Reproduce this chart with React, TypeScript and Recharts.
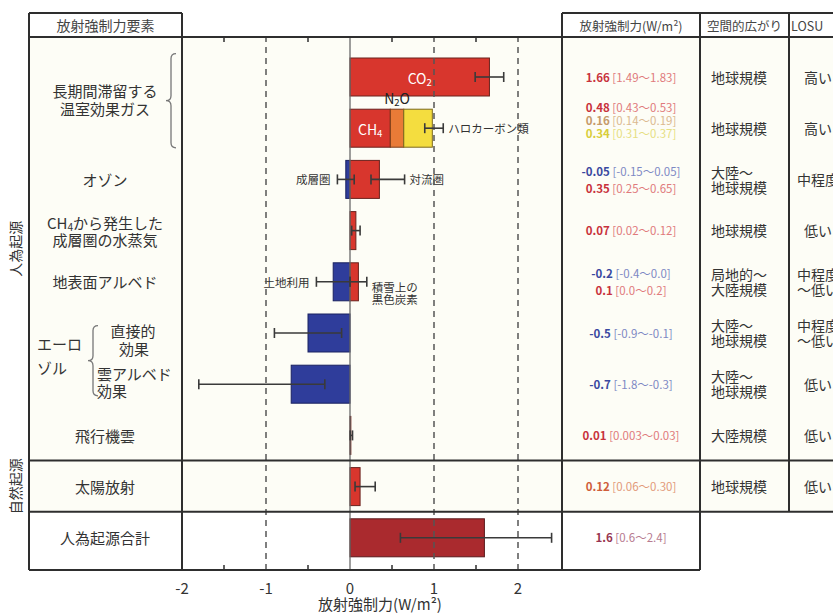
import React from "react";
import { BarChart, Bar, XAxis, YAxis, ReferenceLine, ErrorBar } from "recharts";

// rows, top to bottom
const factorKeys = ["co2", "ghg", "ozone", "stratH2O", "albedo", "aerosolDirect", "cloudAlbedo", "contrails", "solar", "total"];

// forcing (W/m2) per stacked segment
const firstValues = [1.66, 0.48, -0.05, 0.07, -0.2, -0.5, -0.7, 0.01, 0.12, 1.6];
const secondValues = [null, 0.16, 0.35, null, 0.1, null, null, null, null, null];
const thirdValues = [null, 0.34, null, null, null, null, null, null, null, null];

// uncertainty ranges drawn on the bars
const firstLow = [1.49, null, -0.15, 0.02, -0.4, -0.9, -1.8, 0.003, 0.06, 0.6];
const firstHigh = [1.83, null, 0.05, 0.12, 0.0, -0.1, -0.3, 0.03, 0.3, 2.4];
const secondLow = [null, null, 0.25, null, 0.0, null, null, null, null, null];
const secondHigh = [null, null, 0.65, null, 0.2, null, null, null, null, null];
const thirdLow = [null, 0.89, null, null, null, null, null, null, null, null];
const thirdHigh = [null, 1.11, null, null, null, null, null, null, null, null];

const xTicks = [-2, -1.5, -1, -0.5, 0, 0.5, 1, 1.5, 2];
const dashedAt = [-1, 1, 2];

// text
const ghgGroup = ["長期間滞留する", "温室効果ガス"];
const aerosolGroup = ["エーロ", "ゾル"];
const factorLabels = [[], [], ["オゾン"], ["CH₄から発生した", "成層圏の水蒸気"], ["地表面アルベド"], ["直接的", "効果"], ["雲アルベド", "効果"], ["飛行機雲"], ["太陽放射"], ["人為起源合計"]];
const insideLabels = ["CO₂", "CH₄", null, null, null, null, null, null, null, null];
const aboveLabels = [null, "N₂O", null, null, null, null, null, null, null, null];
const leftNotes = [null, null, ["成層圏"], null, ["土地利用"], null, null, null, null, null];
const secondNotes = [null, null, ["対流圏"], null, ["積雪上の", "黒色炭素"], null, null, null, null, null];
const thirdNotes = [null, ["ハロカーボン類"], null, null, null, null, null, null, null, null];

const forcingText = [
  [["1.66", "[1.49～1.83]"]],
  [["0.48", "[0.43～0.53]"], ["0.16", "[0.14～0.19]"], ["0.34", "[0.31～0.37]"]],
  [["-0.05", "[-0.15～0.05]"], ["0.35", "[0.25～0.65]"]],
  [["0.07", "[0.02～0.12]"]],
  [["-0.2", "[-0.4～0.0]"], ["0.1", "[0.0～0.2]"]],
  [["-0.5", "[-0.9～-0.1]"]],
  [["-0.7", "[-1.8～-0.3]"]],
  [["0.01", "[0.003～0.03]"]],
  [["0.12", "[0.06～0.30]"]],
  [["1.6", "[0.6～2.4]"]],
];
const forcingTone = [["red"], ["red", "tan", "yellow"], ["blue", "red"], ["red"], ["blue", "red"], ["blue"], ["blue"], ["red"], ["orange"], ["maroon"]];
const spatialText = [["地球規模"], ["地球規模"], ["大陸～", "地球規模"], ["地球規模"], ["局地的～", "大陸規模"], ["大陸～", "地球規模"], ["大陸～", "地球規模"], ["大陸規模"], ["地球規模"], []];
const losuText = [["高い"], ["高い"], ["中程度"], ["低い"], ["中程度", "～低い"], ["中程度", "～低い"], ["低い"], ["低い"], ["低い"], []];
const axisTitle = "放射強制力(W/m²)";

// styles
const RED = "#d8362d";
const ORANGE = "#e97b37";
const YELLOW = "#f4dd3f";
const BLUE = "#2f3d9b";
const DARKRED = "#aa2a2e";
const firstColors = [RED, RED, BLUE, RED, BLUE, BLUE, BLUE, RED, RED, DARKRED];
const secondColors = [RED, ORANGE, RED, RED, RED, RED, RED, RED, RED, RED];
const thirdColors = [YELLOW, YELLOW, YELLOW, YELLOW, YELLOW, YELLOW, YELLOW, YELLOW, YELLOW, YELLOW];
const edgeOf: Record<string, string> = { [RED]: "#6a221d", [ORANGE]: "#7a3d18", [YELLOW]: "#7d6a1e", [BLUE]: "#1a2260", [DARKRED]: "#5a1a1c" };
const tones: Record<string, [string, string]> = {
  red: ["#c8323c", "#e07a7c"],
  tan: ["#c59a6a", "#dbb990"],
  yellow: ["#d8cd3a", "#e6df82"],
  blue: ["#3a49a0", "#7d89c4"],
  orange: ["#cf5e3a", "#e29a7a"],
  maroon: ["#973450", "#b77b90"],
};

const W = 833;
const H = 616;
const PLOT_LEFT = 182;
const PLOT_RIGHT = 562;
const PLOT_TOP = 37;
const PLOT_BOTTOM = 570;
const BOX_LEFT = 29;
const HEAD_TOP = 13;
const COL_A = 700;
const COL_B = 789;
const PAD_TOP = 14;
const PAD_BOTTOM = 7;
const BAND = (PLOT_BOTTOM - PLOT_TOP - PAD_TOP - PAD_BOTTOM) / factorKeys.length;
const SEP_NATURAL = PLOT_TOP + PAD_TOP + 8 * BAND;
const SEP_TOTAL = PLOT_TOP + PAD_TOP + 9 * BAND;
const X_MAX = -2 + (PLOT_RIGHT - PLOT_LEFT) / 84;
const FONT = '"Noto Sans CJK JP", "Noto Sans", sans-serif';
const INK = "#333";
const LINE = "#2e2e2e";

const seriesValues = [firstValues, secondValues, thirdValues];
const seriesColors = [firstColors, secondColors, thirdColors];
const seriesLow = [firstLow, secondLow, thirdLow];
const seriesHigh = [firstHigh, secondHigh, thirdHigh];

// stack ends, same rule as stackOffset="sign"
const stackTops = seriesValues.map(() => [] as number[]);
factorKeys.forEach((_, i) => {
  let pos = 0;
  let neg = 0;
  seriesValues.forEach((vals, s) => {
    const v = vals[i] ?? 0;
    if (v >= 0) {
      pos += v;
      stackTops[s][i] = pos;
    } else {
      neg += v;
      stackTops[s][i] = neg;
    }
  });
});

const errOf = (s: number, i: number) => {
  const lo = seriesLow[s][i];
  const hi = seriesHigh[s][i];
  if (lo == null || hi == null) return null;
  return [stackTops[s][i] - lo, hi - stackTops[s][i]];
};

const data = factorKeys.map((key, i) => ({
  key,
  first: firstValues[i],
  second: secondValues[i],
  third: thirdValues[i],
  firstErr: errOf(0, i),
  secondErr: errOf(1, i),
  thirdErr: errOf(2, i),
}));

const SUBS = "₀₁₂₃₄₅₆₇₈₉";
function chem(s: string, size: number) {
  const out: React.ReactNode[] = [];
  let buf = "";
  let lowered = false;
  let k = 0;
  const flush = () => {
    if (!buf) return;
    out.push(<tspan key={k++} dy={lowered ? -size * 0.3 : 0}>{buf}</tspan>);
    lowered = false;
    buf = "";
  };
  for (const ch of s) {
    const d = SUBS.indexOf(ch);
    if (d >= 0) {
      flush();
      out.push(<tspan key={k++} dy={size * 0.3} fontSize={size * 0.68}>{d}</tspan>);
      lowered = true;
    } else buf += ch;
  }
  flush();
  return out;
}

const brace = (x: number, y1: number, y2: number, d = 5) => {
  const m = (y1 + y2) / 2;
  return `M${x + d},${y1} Q${x},${y1} ${x},${y1 + d} L${x},${m - d} Q${x},${m} ${x - d},${m} Q${x},${m} ${x},${m + d} L${x},${y2 - d} Q${x},${y2} ${x + d},${y2}`;
};

const txt = (x: number, y: number, s: string, size: number, anchor = "middle", fill = INK, key?: any) => (
  <text key={key} x={x} y={y} textAnchor={anchor} dominantBaseline="central" fontSize={size} fill={fill} fontFamily={FONT}>
    {chem(s, size)}
  </text>
);

function RowTick(props: any) {
  const y = props.y;
  const i = factorKeys.indexOf(props.payload?.value);
  if (i < 0) return null;
  const parts: React.ReactNode[] = [];

  // element names
  if (i === 0) {
    const mid = y + BAND / 2;
    parts.push(txt(105, mid - 12, ghgGroup[0], 15, "middle", INK, "g0"));
    parts.push(txt(105, mid + 6, ghgGroup[1], 15, "middle", INK, "g1"));
    parts.push(<path key="gb" d={brace(171, y - 23, y + BAND + 20)} fill="none" stroke="#777" strokeWidth={1.3} />);
  } else if (i === 5) {
    const mid = y + BAND / 2;
    parts.push(txt(37, mid - 15, aerosolGroup[0], 15, "start", INK, "a0"));
    parts.push(txt(37, mid + 9, aerosolGroup[1], 15, "start", INK, "a1"));
    parts.push(<path key="ab" d={brace(93, y - 7, y + BAND + 12)} fill="none" stroke="#777" strokeWidth={1.3} />);
    parts.push(txt(133, y - 3, factorLabels[i][0], 15, "middle", INK, "l0"));
    parts.push(txt(134, y + 15, factorLabels[i][1], 15, "middle", INK, "l1"));
  } else if (i === 6) {
    parts.push(txt(97, y - 11, factorLabels[i][0], 15, "start", INK, "l0"));
    parts.push(txt(97, y + 6, factorLabels[i][1], 15, "start", INK, "l1"));
  } else {
    const ls = factorLabels[i];
    ls.forEach((s, k) => parts.push(txt(105, y + (k - (ls.length - 1) / 2) * 17, s, 15, "middle", INK, "l" + k)));
  }

  // forcing column
  const lines = forcingText[i];
  const gap = lines.length === 3 ? 13 : 17;
  const shift = lines.length === 3 ? -8 : 0;
  lines.forEach((ln, k) => {
    const [strong, light] = tones[forcingTone[i][k]];
    parts.push(
      <text key={"f" + k} x={(PLOT_RIGHT + COL_A) / 2} y={y + shift + (k - (lines.length - 1) / 2) * gap} textAnchor="middle" dominantBaseline="central" fontSize={11.5} fontFamily={FONT}>
        <tspan fontWeight="bold" fill={strong}>{ln[0]}</tspan>
        <tspan fill={light}>{" " + ln[1]}</tspan>
      </text>
    );
  });

  spatialText[i].forEach((s, k, a) => parts.push(txt(711, y + (k - (a.length - 1) / 2) * 15, s, 14, "start", INK, "s" + k)));
  losuText[i].forEach((s, k, a) => parts.push(txt(818, y + (k - (a.length - 1) / 2) * 15, s, 14, "middle", INK, "u" + k)));

  return <g>{parts}</g>;
}

function makeShape(s: number) {
  return (p: any) => {
    const i = factorKeys.indexOf(p.payload?.key);
    const v = i >= 0 ? seriesValues[s][i] : null;
    if (v == null || !p.width) return <g />;
    const x0 = Math.min(p.x, p.x + p.width);
    const w = Math.abs(p.width);
    const fill = seriesColors[s][i];
    const ppu = w / Math.abs(v);
    const endX = v >= 0 ? x0 + w : x0;
    const at = (val: number) => endX + (val - stackTops[s][i]) * ppu;
    const cy = p.y + p.height / 2;
    const parts: React.ReactNode[] = [
      <rect key="r" x={x0} y={p.y} width={w} height={p.height} fill={fill} stroke={edgeOf[fill]} strokeWidth={1} />,
    ];
    if (s === 0 && insideLabels[i]) parts.push(txt(x0 + w / 2, cy + 1, insideLabels[i] as string, 14, "middle", "#fff", "in"));
    if (s === 1 && aboveLabels[i]) parts.push(txt(x0 + w / 2, p.y - 11, aboveLabels[i] as string, 14, "middle", "#222", "ab"));
    const lnote = s === 0 ? leftNotes[i] : null;
    if (lnote && seriesLow[s][i] != null) {
      lnote.forEach((t, k) => parts.push(txt(at(seriesLow[s][i] as number) - 7, cy + (k - (lnote.length - 1) / 2) * 12, t, 11.5, "end", INK, "ln" + k)));
    }
    const rnote = s === 1 ? secondNotes[i] : s === 2 ? thirdNotes[i] : null;
    if (rnote && seriesHigh[s][i] != null) {
      const base = (rnote.length - 1) * 11;
      rnote.forEach((t, k) => parts.push(txt(at(seriesHigh[s][i] as number) + 5, cy + base + (k - (rnote.length - 1) / 2) * 12, t, 11.5, "start", INK, "rn" + k)));
    }
    return <g>{parts}</g>;
  };
}

const BottomTick = (p: any) => {
  const v = p.payload.value;
  if (Number.isInteger(v)) {
    return (
      <text x={p.x} y={p.y + 17} textAnchor="middle" dominantBaseline="central" fontSize={15} fill={INK} fontFamily={FONT}>
        {String(v)}
      </text>
    );
  }
  return <line x1={p.x} x2={p.x} y1={p.y} y2={p.y - 5} stroke={LINE} strokeWidth={1.5} />;
};

const TopTick = (p: any) => {
  const v = p.payload.value;
  if (Number.isInteger(v)) return <g />;
  return <line x1={p.x} x2={p.x} y1={p.y} y2={p.y + 5} stroke={LINE} strokeWidth={1.5} />;
};

const errProps = { direction: "x" as const, width: 5, stroke: "#3a3a3a", strokeWidth: 1.6, isAnimationActive: false };

export default function App() {
  const hl = (x1: number, x2: number, y: number) => <line x1={x1} x2={x2} y1={y} y2={y} stroke={LINE} strokeWidth={2} />;
  const vl = (x: number, y1: number, y2: number) => <line x1={x} x2={x} y1={y1} y2={y2} stroke={LINE} strokeWidth={2} />;
  return (
    <div style={{ position: "absolute", left: 0, top: 0, width: W, height: H, background: "#fff", fontFamily: FONT, overflow: "hidden" }}>
      <div style={{ position: "absolute", left: BOX_LEFT, top: PLOT_TOP, width: W - BOX_LEFT, height: SEP_TOTAL - PLOT_TOP, background: "#fdfdf6" }} />
      <div style={{ position: "absolute", left: 0, top: 0 }}>
        <BarChart
          width={W}
          height={H}
          data={data}
          layout="vertical"
          stackOffset="sign"
          barSize={38}
          margin={{ top: PLOT_TOP - 1, right: W - PLOT_RIGHT, bottom: 0, left: 0 }}
        >
          <XAxis
            type="number"
            domain={[-2, X_MAX]}
            allowDataOverflow
            ticks={xTicks}
            interval={0}
            height={H - PLOT_BOTTOM}
            tickSize={0}
            tickMargin={0}
            tickLine={false}
            axisLine={{ stroke: LINE, strokeWidth: 2 }}
            tick={(p: any) => <BottomTick {...p} />}
          />
          <XAxis
            xAxisId="top"
            orientation="top"
            type="number"
            domain={[-2, X_MAX]}
            allowDataOverflow
            ticks={xTicks}
            interval={0}
            height={1}
            tickSize={0}
            tickMargin={0}
            tickLine={false}
            axisLine={false}
            tick={(p: any) => <TopTick {...p} />}
          />
          <YAxis
            type="category"
            dataKey="key"
            width={PLOT_LEFT}
            interval={0}
            tickSize={0}
            tickMargin={0}
            tickLine={false}
            axisLine={false}
            padding={{ top: PAD_TOP, bottom: PAD_BOTTOM }}
            tick={(p: any) => <RowTick {...p} />}
          />
          {dashedAt.map((v) => (
            <ReferenceLine key={v} x={v} stroke="#555" strokeWidth={1.5} strokeDasharray="6 5" />
          ))}
          <ReferenceLine x={0} stroke="#6a6a6a" strokeWidth={1.3} />
          <Bar dataKey="first" stackId="f" isAnimationActive={false} shape={makeShape(0)}>
            <ErrorBar dataKey="firstErr" {...errProps} />
          </Bar>
          <Bar dataKey="second" stackId="f" isAnimationActive={false} shape={makeShape(1)}>
            <ErrorBar dataKey="secondErr" {...errProps} />
          </Bar>
          <Bar dataKey="third" stackId="f" isAnimationActive={false} shape={makeShape(2)}>
            <ErrorBar dataKey="thirdErr" {...errProps} />
          </Bar>
        </BarChart>
      </div>
      <svg width={W} height={H} style={{ position: "absolute", left: 0, top: 0, pointerEvents: "none" }}>
        {hl(BOX_LEFT, PLOT_LEFT, HEAD_TOP)}
        {hl(PLOT_RIGHT, W, HEAD_TOP)}
        {hl(BOX_LEFT, W, PLOT_TOP)}
        {hl(BOX_LEFT, W, SEP_NATURAL)}
        {hl(BOX_LEFT, W, SEP_TOTAL)}
        {hl(BOX_LEFT, COL_A, PLOT_BOTTOM)}
        {vl(BOX_LEFT, HEAD_TOP, PLOT_BOTTOM)}
        {vl(PLOT_LEFT, HEAD_TOP, PLOT_BOTTOM)}
        {vl(PLOT_RIGHT, HEAD_TOP, PLOT_BOTTOM)}
        {vl(COL_A, HEAD_TOP, PLOT_BOTTOM)}
        {vl(COL_B, HEAD_TOP, SEP_TOTAL)}
        {txt((BOX_LEFT + PLOT_LEFT) / 2, (HEAD_TOP + PLOT_TOP) / 2, "放射強制力要素", 14, "middle", "#444")}
        <text x={(PLOT_RIGHT + COL_A) / 2} y={(HEAD_TOP + PLOT_TOP) / 2} textAnchor="middle" dominantBaseline="central" fontSize={12.5} fill="#444" fontFamily={FONT}>
          {axisTitle}
        </text>
        {txt((COL_A + COL_B) / 2, (HEAD_TOP + PLOT_TOP) / 2, "空間的広がり", 12.5, "middle", "#444")}
        {txt(COL_B + 2, (HEAD_TOP + PLOT_TOP) / 2, "LOSU", 12.5, "start", "#444")}
        <text x={380} y={603} textAnchor="middle" dominantBaseline="central" fontSize={15} fill={INK} fontFamily={FONT}>
          {axisTitle}
        </text>
        <text x={15} y={(PLOT_TOP + SEP_NATURAL) / 2} transform={`rotate(-90 15 ${(PLOT_TOP + SEP_NATURAL) / 2})`} textAnchor="middle" dominantBaseline="central" fontSize={14} fill={INK} fontFamily={FONT}>
          人為起源
        </text>
        <text x={15} y={(SEP_NATURAL + SEP_TOTAL) / 2} transform={`rotate(-90 15 ${(SEP_NATURAL + SEP_TOTAL) / 2})`} textAnchor="middle" dominantBaseline="central" fontSize={14} fill={INK} fontFamily={FONT}>
          自然起源
        </text>
      </svg>
    </div>
  );
}
